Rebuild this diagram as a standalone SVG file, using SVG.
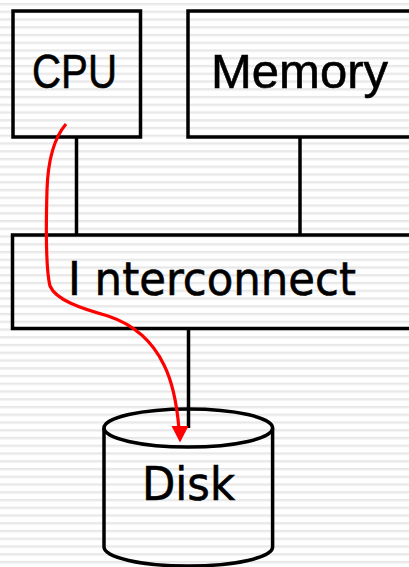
<svg xmlns="http://www.w3.org/2000/svg" width="409" height="567" viewBox="0 0 409 567">
<style>
.box{fill:none;stroke:#000;stroke-width:3.5}
.wire{fill:none;stroke:#000;stroke-width:3.5}
.lbl{font-family:"Liberation Sans",Arial,sans-serif;font-size:49px;fill:#000;stroke:#000;stroke-width:0.6}
.dv{font-family:"DejaVu Sans",Verdana,sans-serif;font-size:46px}
.flow{fill:none;stroke:#ff0000;stroke-width:3.2;stroke-linecap:butt}
.head{fill:#ff0000;stroke:none}
</style>
<defs>
<pattern id="stripes" patternUnits="userSpaceOnUse" width="409" height="7.75" y="0">
<rect x="0" y="0" width="409" height="7.75" fill="#ffffff"/>
<rect x="0" y="3.2" width="409" height="1.2" fill="#dcdcdc"/>
<rect x="0" y="4.4" width="409" height="1" fill="#ececec"/>
</pattern>
</defs>
<rect width="409" height="567" fill="url(#stripes)"/>
<g id="cpu">
<rect class="box" x="13" y="11" width="127.5" height="126"/>
<text class="lbl" x="32" y="87.5" textLength="85" lengthAdjust="spacingAndGlyphs">CPU</text>
</g>
<g id="memory">
<rect class="box" x="188" y="11" width="250" height="126"/>
<text class="lbl" x="211" y="87.5" textLength="177" lengthAdjust="spacingAndGlyphs">Memory</text>
</g>
<g id="interconnect">
<rect class="box" x="12.5" y="235" width="430" height="93.5"/>
<text class="lbl dv" x="68" y="295" textLength="288" lengthAdjust="spacingAndGlyphs">I nterconnect</text>
</g>
<g id="disk">
<path class="box" d="M104,428 L104,547 A84.3,19 0 0 0 272.6,547 L272.6,428"/>
<ellipse class="box" cx="188.3" cy="428" rx="84.3" ry="19"/>
<text class="lbl dv" x="142" y="500" textLength="93" lengthAdjust="spacingAndGlyphs">Disk</text>
</g>
<g id="connectors">
<line class="wire" x1="76.5" y1="137" x2="76.5" y2="235"/>
<line class="wire" x1="300" y1="137" x2="300" y2="235"/>
<line class="wire" x1="188.5" y1="328.5" x2="188.5" y2="428"/>
<path class="flow" d="M66,124 C54,138 48,158 47,190 C46,225 46,270 50,286 C56,300 80,308 108,316 C132,324 152,340 164,365 C173,383 177,405 179,429"/>
<polygon class="head" points="171.5,426 188.5,426 180,442.5"/>
</g>
</svg>
